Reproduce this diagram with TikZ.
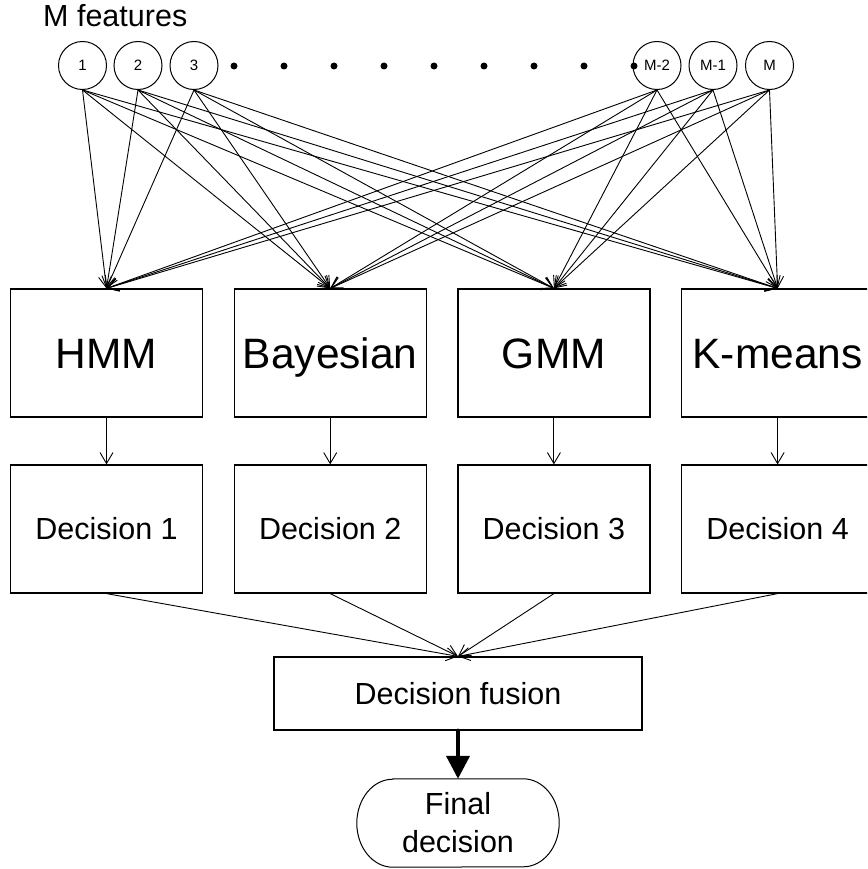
\documentclass[tikz,border=0pt]{standalone}
\usepackage{fontspec}
\setmainfont{Liberation Sans}
\usetikzlibrary{arrows.meta}
\begin{document}
\begin{tikzpicture}[x=1pt,y=1pt,
  feat/.style={circle,draw,line width=1pt,minimum size=48pt,inner sep=0pt,font=\fontsize{15}{18}\selectfont},
  model/.style={rectangle,draw,line width=1.2pt,minimum width=192pt,minimum height=128pt,inner sep=0pt,text height=30pt,text depth=0pt,font=\fontsize{42.5}{50}\selectfont},
  dec/.style={rectangle,draw,line width=1.2pt,minimum width=192pt,minimum height=128pt,inner sep=0pt,font=\fontsize{30.5}{36}\selectfont},
  arr/.style={line width=0.9pt,-{Straight Barb[length=11pt,width=13pt,line width=0.9pt]}},
  bigarr/.style={line width=4pt,line cap=round,-{Triangle[length=23pt,width=23pt]}}
]
\useasboundingbox (0,0) rectangle (867,-869);
\clip (0,0) rectangle (867,-869);
\node[anchor=base west,inner sep=0pt,font=\fontsize{30.5}{36}\selectfont] (title) at (43,-27) {M features};
% feature circles
\node[feat] (c1) at (82.5,-65.5) {1};
\node[feat] (c2) at (138,-65.5) {2};
\node[feat] (c3) at (194,-65.5) {3};
\node[feat] (c4) at (657,-65.5) {M-2};
\node[feat] (c5) at (713,-65.5) {M-1};
\node[feat] (c6) at (769.5,-65.5) {M};
\foreach \k in {0,...,8} {\fill (234+50*\k,-66) circle (3.5);}
% model boxes
\node[model] (m1) at (106.5,-353) {HMM};
\node[model] (m2) at (330.2,-353) {Bayesian};
\node[model] (m3) at (553.9,-353) {GMM};
\node[model] (m4) at (777.6,-353) {K-means};
% decision boxes
\node[dec] (d1) at (106.5,-529) {Decision 1};
\node[dec] (d2) at (330.2,-529) {Decision 2};
\node[dec] (d3) at (553.9,-529) {Decision 3};
\node[dec] (d4) at (777.6,-529) {Decision 4};
% fusion
\node[rectangle,draw,line width=1.2pt,minimum width=368pt,minimum height=73pt,inner sep=0pt,font=\fontsize{30.5}{36}\selectfont] (fus) at (458,-693.5) {Decision fusion};
% final decision
\node[minimum width=202pt,minimum height=88pt,inner sep=0pt,align=center,font=\fontsize{30.5}{38}\selectfont] (fin) at (458,-823) {Final\\decision};
\draw[line width=1pt] ([xshift=36pt]fin.north west) -- ([xshift=-36pt]fin.north east)
  arc[start angle=90,end angle=-90,x radius=36pt,y radius=44pt]
  -- ([xshift=36pt]fin.south west)
  arc[start angle=270,end angle=90,x radius=36pt,y radius=44pt] -- cycle;
% connectors
\foreach \c in {c1,c2,c3,c4,c5,c6} {
  \foreach \m in {m1,m2,m3,m4} {
    \draw[arr] (\c.south) -- (\m.north);
  }
}
\foreach \i in {1,2,3,4} {
  \draw[arr] (m\i.south) -- (d\i.north);
  \draw[arr] (d\i.south) -- (fus.north);
}
\draw[bigarr] (fus.south) -- (fin.north);
\end{tikzpicture}
\end{document}
